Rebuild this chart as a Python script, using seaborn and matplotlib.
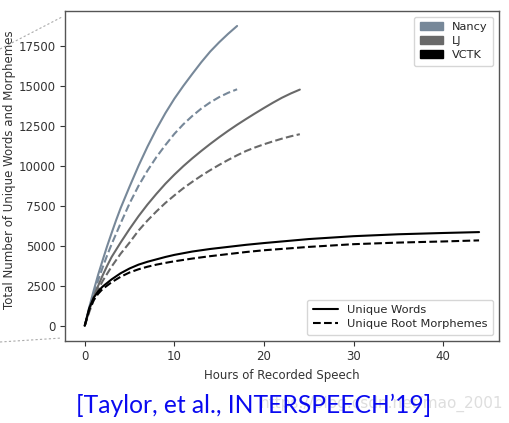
import numpy as np
import pandas as pd
import matplotlib
matplotlib.use("Agg")
import matplotlib.pyplot as plt
import seaborn as sns
from matplotlib.patches import Patch
from matplotlib.lines import Line2D

# ---- data ----
nancy_hours = [0, 0.5, 1, 1.5, 2, 2.5, 3, 3.5, 4, 5, 6, 7, 8, 9, 10, 11, 12, 13, 14, 15, 16, 17]
nancy_words = [0, 1150, 2200, 3200, 4100, 4980, 5800, 6600, 7350, 8700, 10000, 11200,
               12300, 13300, 14200, 15000, 15750, 16480, 17150, 17730, 18260, 18750]
nancy_morph = [0, 1000, 1950, 2850, 3650, 4400, 5100, 5750, 6400, 7650, 8750, 9700,
               10550, 11300, 12000, 12600, 13120, 13580, 13970, 14300, 14570, 14790]

lj_hours = [0, 0.5, 1, 1.5, 2, 2.5, 3, 4, 5, 6, 7, 8, 9, 10, 11, 12, 13, 14, 15, 16,
            17, 18, 19, 20, 21, 22, 23, 24]
lj_words = [0, 950, 1800, 2500, 3150, 3750, 4300, 5200, 6050, 6850, 7580, 8250, 8880,
            9450, 9980, 10470, 10930, 11370, 11790, 12190, 12570, 12930, 13280, 13620,
            13950, 14260, 14530, 14770]
lj_morph = [0, 850, 1600, 2250, 2800, 3250, 3700, 4500, 5200, 5950, 6580, 7150, 7680,
            8150, 8600, 9000, 9380, 9730, 10060, 10370, 10660, 10930, 11150, 11350,
            11530, 11700, 11850, 11980]

vctk_hours = [0, 0.5, 1, 1.5, 2, 3, 4, 5, 6, 7, 8, 9, 10, 12, 14, 16, 18, 20, 25, 30,
              35, 40, 44]
vctk_words = [0, 1100, 1750, 2150, 2450, 2900, 3280, 3580, 3820, 4000, 4150, 4300, 4430,
              4640, 4800, 4930, 5060, 5170, 5420, 5600, 5720, 5800, 5856]
vctk_morph = [0, 1000, 1600, 2000, 2300, 2720, 3060, 3330, 3530, 3690, 3820, 3930, 4030,
              4200, 4350, 4480, 4610, 4720, 4930, 5100, 5200, 5270, 5337]

datasets = ["Nancy", "LJ", "VCTK"]
colors = {"Nancy": "#778899", "LJ": "#696969", "VCTK": "#000000"}
caption = "[Taylor, et al., INTERSPEECH\u201919]"
watermark = "https://blog.csdn.net/mao_2001"

series = [
    ("Nancy", "Unique Words", nancy_hours, nancy_words),
    ("Nancy", "Unique Root Morphemes", nancy_hours, nancy_morph),
    ("LJ", "Unique Words", lj_hours, lj_words),
    ("LJ", "Unique Root Morphemes", lj_hours, lj_morph),
    ("VCTK", "Unique Words", vctk_hours, vctk_words),
    ("VCTK", "Unique Root Morphemes", vctk_hours, vctk_morph),
]
rows = []
for name, kind, hrs, vals in series:
    for h, v in zip(hrs, vals):
        rows.append((name, kind, h, v))
df = pd.DataFrame(rows, columns=["dataset", "kind", "hours", "count"])

sns.set_style("white")
plt.rcParams["font.family"] = ["DejaVu Sans"]

fig = plt.figure(figsize=(5.10, 4.23), dpi=100)
ax = fig.add_axes([0.1275, 0.1946, 0.8505, 0.7794])

styles = {"Unique Words": "-", "Unique Root Morphemes": "--"}
for name in datasets:
    for kind in ["Unique Words", "Unique Root Morphemes"]:
        sub = df[(df.dataset == name) & (df.kind == kind)]
        sns.lineplot(data=sub, x="hours", y="count", ax=ax, color=colors[name],
                     linestyle=styles[kind], linewidth=1.5, legend=False,
                     estimator=None, sort=False)

ax.set_xlim(-2.2, 46.2)
ax.set_ylim(-937, 19687)
ax.set_xticks([0, 10, 20, 30, 40])
ax.set_yticks([0, 2500, 5000, 7500, 10000, 12500, 15000, 17500])
ax.tick_params(axis="both", labelsize=8.5, colors="#333333", length=3.5,
               width=0.8, direction="out", bottom=True, left=True)
ax.set_xlabel("Hours of Recorded Speech", fontsize=8.5, color="#333333")
ax.set_ylabel("Total Number of Unique Words and Morphemes", fontsize=8.5,
              color="#333333")
ax.yaxis.set_label_coords(-0.112, 0.52)
for s in ax.spines.values():
    s.set_color("#555555")
    s.set_linewidth(1.0)

h1 = [Patch(facecolor=colors[n], edgecolor=colors[n], label=n) for n in datasets]
leg1 = ax.legend(handles=h1, loc="upper right", fontsize=8.2, frameon=True,
                 handlelength=2.0, borderpad=0.5, labelspacing=0.35)
leg1.get_frame().set_edgecolor("#cccccc")
ax.add_artist(leg1)
h2 = [Line2D([0], [0], color="black", lw=1.5, ls="-", label="Unique Words"),
      Line2D([0], [0], color="black", lw=1.5, ls="--", label="Unique Root Morphemes")]
leg2 = ax.legend(handles=h2, loc="lower right", fontsize=8.2, frameon=True,
                 handlelength=2.2, borderpad=0.5, labelspacing=0.35)
leg2.get_frame().set_edgecolor("#cccccc")

# slide decoration (dotted zoom guides)
fig.add_artist(Line2D([0 / 510, 62 / 510], [1 - 49 / 423, 1 - 17 / 423],
                      color="#aaaaaa", lw=0.8, ls=(0, (2, 2))))
fig.add_artist(Line2D([0 / 510, 62 / 510], [1 - 342 / 423, 1 - 338 / 423],
                      color="#aaaaaa", lw=0.8, ls=(0, (2, 2))))

fig.text(260 / 510, 1 - 404 / 423, watermark, fontsize=11, color="#dedede",
         ha="left", va="center", family=["DejaVu Sans"])
fig.text(254 / 510, 1 - 405 / 423, caption, fontsize=17.7, color="#0a0af0",
         ha="center", va="center", family=["Lato", "DejaVu Sans"])

fig.savefig("out.png", dpi=100)
